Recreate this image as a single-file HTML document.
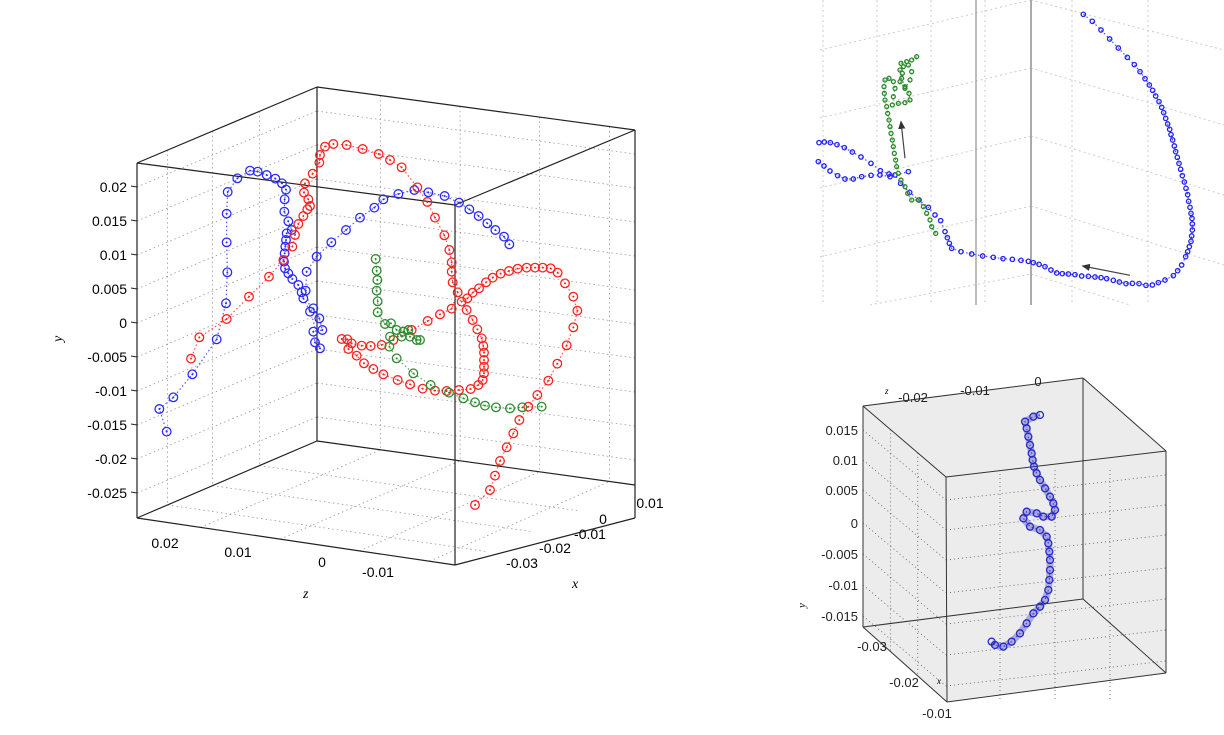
<!DOCTYPE html>
<html><head><meta charset="utf-8"><style>
body{margin:0;background:#fff;}
svg{display:block;font-family:"Liberation Sans",sans-serif;}
</style></head><body>
<svg id="s" width="1224" height="735" viewBox="0 0 1224 735"></svg>
<script>
// ---- main chart data (projected plot units) ----
const mainYTicks=[0.02,0.015,0.01,0.005,0,-0.005,-0.01,-0.015,-0.02,-0.025];
const mainYLabels=["0.02","0.015","0.01","0.005","0","-0.005","-0.01","-0.015","-0.02","-0.025"];
const zTickLabels=["0.02","0.01","0","-0.01"];
const xTickLabels=["0.01","0","-0.01","-0.02","-0.03"];
const bluePts=[[110,1055],[88,987],[130,952],[187,883],[260,778],[288,670],[292,577],[290,487],[290,401],[293,336],[322,295],[360,272],[383,275],[410,285],[436,296],[456,310],[468,329],[464,358],[463,395],[475,424],[485,450],[470,460],[468,480],[466,500],[464,520],[462,545],[465,565],[475,580],[487,597],[505,615],[515,637],[520,655],[540,695],[550,685],[568,715],[577,750],[550,755],[555,787],[570,805],[527,632],[530,575],[560,530],[604,487],[648,450],[690,413],[733,383],[760,358],[805,342],[853,330],[895,337],[944,348],[987,368],[1018,388],[1046,408],[1072,430],[1096,450],[1122,470],[1138,493]];
const redPts=[[1035,1275],[1080,1230],[1095,1187],[1110,1143],[1130,1102],[1150,1060],[1168,1020],[1195,980],[1222,945],[1255,902],[1282,851],[1310,796],[1330,742],[1342,692],[1330,650],[1305,610],[1283,578],[1262,565],[1238,563],[1215,563],[1190,563],[1163,566],[1137,573],[1112,581],[1088,593],[1068,607],[1047,625],[1028,638],[1012,655],[995,665],[1010,690],[1028,720],[1042,748],[1055,775],[1060,798],[1062,818],[1062,840],[1062,860],[1062,880],[1058,900],[1045,915],[1022,927],[987,930],[950,933],[915,932],[878,926],[840,913],[803,900],[760,883],[730,867],[702,850],[680,827],[655,807],[635,777],[652,778],[665,790],[695,797],[722,798],[755,795],[790,780],[845,750],[893,723],[930,703],[965,686],[983,637],[968,607],[965,575],[965,547],[958,510],[943,466],[915,413],[892,366],[862,322],[815,262],[780,240],[746,222],[698,207],[650,195],[610,192],[585,200],[570,225],[568,248],[548,281],[525,310],[522,338],[535,358],[540,378],[532,388],[520,408],[505,432],[495,465],[487,500],[460,540],[417,590],[357,650],[290,717],[208,772],[183,836]];
const greenPts=[[737,537],[740,572],[742,600],[740,632],[743,664],[743,697],[765,732],[783,730],[800,750],[820,755],[835,750],[860,780],[870,780],[840,770],[815,770],[780,770],[778,800],[800,835],[850,880],[902,915],[957,938],[1000,955],[1035,967],[1065,977],[1098,982],[1140,985],[1177,982],[1235,980]];
// ---- top-right panel data ----
const trBlue=[[805,43],[832,64],[858,90],[884,117],[910,144],[937,172],[958,194],[975,215],[990,236],[1003,255],[1013,271],[1022,288],[1032,305],[1040,322],[1046,338],[1052,355],[1058,372],[1064,388],[1068,404],[1073,420],[1078,438],[1082,455],[1087,472],[1092,490],[1097,508],[1102,527],[1108,546],[1113,565],[1118,584],[1121,604],[1125,622],[1128,640],[1131,655],[1132,672],[1132,690],[1130,708],[1128,724],[1123,740],[1118,755],[1112,770],[1100,795],[1088,812],[1075,827],[1050,840],[1030,848],[1012,855],[993,856],[972,851],[952,850],[933,851],[913,846],[895,841],[875,836],[858,833],[840,831],[820,829],[800,828],[780,824],[760,822],[742,821],[725,819],[708,810],[690,800],[672,793],[655,788],[640,784],[618,781],[592,778],[564,776],[535,772],[503,768],[470,762],[438,755],[410,745],[403,730],[397,713],[390,695],[377,662],[360,645],[340,622],[312,600],[284,577],[257,550],[240,525],[222,522],[196,512],[168,490],[138,471],[112,456],[88,443],[66,434],[46,428],[28,426],[12,428]];
const trBlue2=[[10,485],[27,498],[45,513],[68,527],[90,537],[115,537],[140,530],[168,526],[195,525],[225,530],[280,515]];
const trGreen=[[362,700],[350,680],[345,660],[335,640],[325,620],[310,600],[290,600],[278,580],[270,560],[258,540],[250,520],[245,500],[242,480],[238,460],[235,440],[232,420],[228,400],[225,380],[222,360],[218,340],[215,320],[210,300],[208,280],[207,260],[210,240],[222,235],[235,245],[240,265],[235,290],[232,315],[250,310],[270,308],[285,300],[282,280],[270,260],[260,235],[255,210],[265,200],[280,195],[290,215],[285,240],[270,265],[255,245],[262,220],[258,190],[275,185],[290,180],[305,170]];
// ---- bottom-right panel data ----
const brYTicks=["0.015","0.01","0.005","0","-0.005","-0.01","-0.015"];
const brBlue=[[690,135],[670,140],[645,155],[650,175],[655,200],[660,225],[665,250],[668,270],[672,290],[680,310],[690,330],[705,355],[720,380],[730,400],[735,420],[725,440],[700,440],[680,430],[650,425],[640,445],[660,470],[690,480],[710,500],[715,520],[718,545],[720,570],[720,600],[718,630],[715,660],[705,690],[690,710],[670,730],[650,760],[630,790],[605,815],[580,830],[555,825],[545,815]];

const S=document.getElementById('s');const NS='http://www.w3.org/2000/svg';
function mk(t,a,p){const e=document.createElementNS(NS,t);for(const k in a)e.setAttribute(k,a[k]);(p||S).appendChild(e);return e;}
function txt(x,y,s,a,p){const e=mk('text',Object.assign({x:x,y:y,'font-size':14,fill:'#000'},a||{}),p);e.textContent=s;return e;}
// axis functions
const mY=v=>323-v*6800;
const mPX=z=>z/3+130, mPY=z=>z/3+80;
const tPX=z=>z/3+815, tPY=z=>z/3;
const bPX=z=>z/3+810, bPY=z=>z/3+370;
const dot={stroke:'#999','stroke-width':0.8,'stroke-dasharray':'1.5,3',fill:'none'};
const L=(x1,y1,x2,y2,a,p)=>mk('line',Object.assign({x1,y1,x2,y2},a),p);

// ===== main chart =====
const gM=mk('g',{});

const gG=mk('g',{},gM);
mainYTicks.forEach(v=>{const y=mY(v);L(137,y,317,y-76,dot,gG);L(317,y-76,635,y-33,dot,gG);});
[0.17,0.42,0.68].forEach(f=>{const x=137+180*f,dy=-76*f;L(x,163+dy,x,518+dy,dot,gG);});
[0.2,0.45,0.7,0.92].forEach(f=>{const x=317+318*f,dy=43*f;L(x,87+dy,x,441+dy,dot,gG);});
[0.17,0.42,0.68].forEach(f=>{L(137+180*f,518-77*f,455+180*f,565-80*f,dot,gG);});
[0.2,0.45,0.7,0.92].forEach(f=>{L(137+318*f,518+47*f,317+318*f,441+44*f,dot,gG);});
const gB=mk('g',{stroke:'#222','stroke-width':1.2,fill:'none'},gM);
[[137,163,317,87],[317,87,635,130],[635,130,455,205],[455,205,137,163],[137,163,137,518],[317,87,317,441],[635,130,635,518],[455,205,455,565],[137,518,317,441],[317,441,635,485],[137,518,455,565],[455,565,635,518]].forEach(s=>L(s[0],s[1],s[2],s[3],{},gB));
mainYTicks.forEach((v,i)=>{const y=mY(v);L(131,y-1,137,y,{stroke:'#222'},gM);const t=txt(127,y+5,mainYLabels[i],{'text-anchor':'end'},gM);});
const zx=[165,238,322,378],zy=[548,557,567,577];
zTickLabels.forEach((s,i)=>{const t=txt(zx[i],zy[i],s,{'text-anchor':'middle'},gM);});
const xx=[650,603,590,555,522],xy=[508,524,539,553,568];
xTickLabels.forEach((s,i)=>{const t=txt(xx[i],xy[i],s,{'text-anchor':'middle'},gM);});
let t=txt(303,598,'z',{'font-family':'Liberation Serif,serif','font-style':'italic'},gM);
t=txt(572,588,'x',{'font-family':'Liberation Serif,serif','font-style':'italic'},gM);
t=txt(0,0,'y',{'font-family':'Liberation Serif,serif','font-style':'italic',transform:'translate(62,342) rotate(-90)'},gM);
function series(pts,col,name,fx,fy,r,p,inner){
 const g=mk('g',{},p);
 mk('polyline',{points:pts.map(q=>fx(q[0])+','+fy(q[1])).join(' '),fill:'none',stroke:col,'stroke-width':1.2,'stroke-dasharray':'1.5,2.5',opacity:0.8},g);
 pts.forEach(q=>{const c=mk('circle',{cx:fx(q[0]),cy:fy(q[1]),r:r,fill:'none',stroke:col,'stroke-width':1.3},g);
  if(inner)mk('circle',{cx:fx(q[0]),cy:fy(q[1]),r:1,fill:col},g);});
}
series(bluePts,'#2a2aff','blue-trajectory',mPX,mPY,4.3,gM,true);
series(redPts,'#ff2020','red-trajectory',mPX,mPY,4.3,gM,true);
series(greenPts,'#2e8b2e','green-trajectory',mPX,mPY,4.3,gM,true);

// ===== top-right panel =====
const gT=mk('g',{});
const d2={stroke:'#ccc','stroke-width':1,'stroke-dasharray':'2,3',fill:'none'};
[823,877,931,985,1072,1148].forEach(x=>L(x,0,x,305,d2,gT));
[[820,50,1031,0],[820,118,1031,68],[820,188,1031,136],[820,257,1031,206],[870,305,1031,274],[1031,0,1224,50],[1031,68,1224,125],[1031,136,1224,195],[1031,206,1224,265],[1031,274,1130,305]].forEach(s=>L(s[0],s[1],s[2],s[3],d2,gT));
L(976,0,976,305,{stroke:'#999','stroke-width':1.3},gT);L(1031,0,1031,305,{stroke:'#aaa','stroke-width':2},gT);
series(trBlue,'#2020ff','top-blue-path',tPX,tPY,2.2,gT,false);
series(trBlue2,'#2020ff','top-blue-loop',tPX,tPY,2.2,gT,false);
series(trGreen,'#2a8a2a','top-green-path',tPX,tPY,2,gT,false);
mk('defs',{},S).innerHTML='<marker id="ah" markerWidth="8" markerHeight="8" refX="6" refY="3" orient="auto"><path d="M0,0 L7,3 L0,6 z" fill="#333"/></marker>';
[[270,475,258,365],[945,826,803,798]].forEach(a=>{const l=L(tPX(a[0]),tPY(a[1]),tPX(a[2]),tPY(a[3]),{stroke:'#444','stroke-width':1.2,'marker-end':'url(#ah)'},gT);});

// ===== bottom-right panel =====
const gR=mk('g',{});
mk('polygon',{points:'863,406 1083,378 1166,451 1166,673 947,702 863,627',fill:'#ececec'},gR);
const d3={stroke:'#555','stroke-width':0.8,'stroke-dasharray':'1,3',fill:'none'};
[430,460,490,523,554,585,616].forEach(y=>{L(863,y,946,y+70,d3,gR);L(946,y+70,1166,y+45,d3,gR);});
[1000,1055,1110].forEach(x=>L(x,470,x,700,d3,gR));
[0.33,0.66].forEach(f=>{L(863+83*f,406+71*f,863+83*f,627+75*f,d3,gR);});
const bB=mk('g',{stroke:'#333','stroke-width':1,fill:'none'},gR);
[[863,406,1083,378],[1083,378,1166,451],[1166,451,946,477],[946,477,863,406],[863,406,863,627],[1083,378,1083,599],[1166,451,1166,673],[946,477,947,702],[863,627,1083,599],[1083,599,1166,673],[1166,673,947,702],[947,702,863,627]].forEach(s=>L(s[0],s[1],s[2],s[3],{},bB));
[430,460,490,523,554,585,616].forEach((y,i)=>{const q=txt(858,y+5,brYTicks[i],{'text-anchor':'end','font-size':13,fill:'#222'},gR);});
[["-0.03",872,651],["-0.02",904,687],["-0.01",937,718]].forEach(a=>{const q=txt(a[1],a[2],a[0],{'text-anchor':'middle','font-size':13,fill:'#222'},gR);});
[["-0.02",913,402],["-0.01",975,395],["0",1038,386]].forEach(a=>{const q=txt(a[1],a[2],a[0],{'text-anchor':'middle','font-size':13,fill:'#222'},gR);});
txt(885,394,'z',{'font-size':9,'font-style':'italic','font-family':'Liberation Serif,serif'},gR);
txt(937,684,'x',{'font-size':9,'font-style':'italic','font-family':'Liberation Serif,serif'},gR);
txt(0,0,'y',{'font-size':11,'font-style':'italic','font-family':'Liberation Serif,serif',transform:'translate(805,608) rotate(-90)'},gR);
const gBB=mk('g',{},gR);
mk('polyline',{points:brBlue.map(q=>bPX(q[0])+','+bPY(q[1])).join(' '),fill:'none',stroke:'#3030c0','stroke-width':7,opacity:0.35},gBB);
series(brBlue,'#2828c8','bottom-blue-path',bPX,bPY,3.5,gR,false);
</script>
</body></html>
